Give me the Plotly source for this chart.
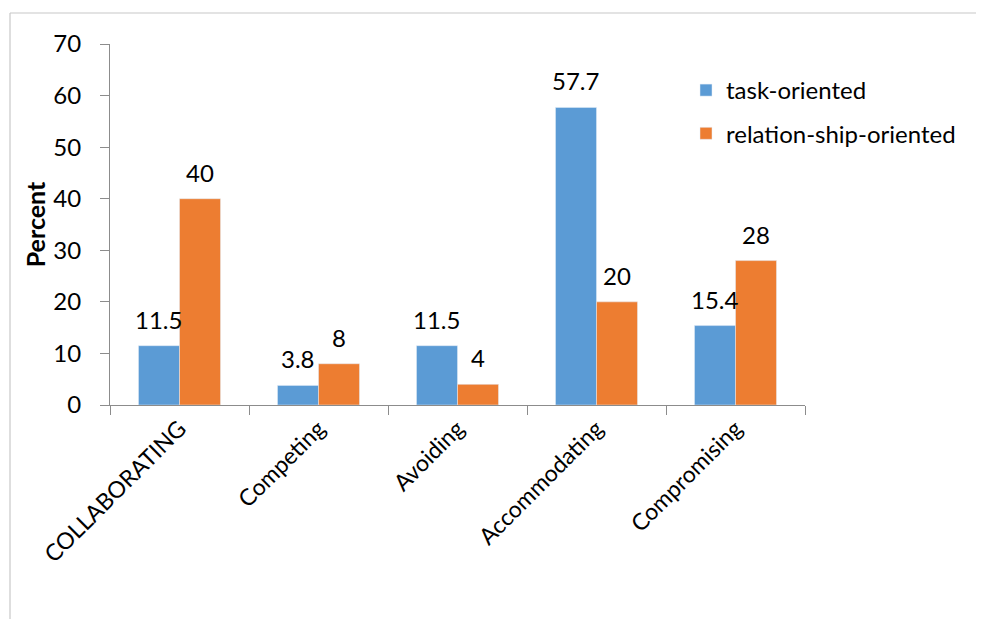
import plotly.graph_objects as go

categories = ["COLLABORATING", "Competing", "Avoiding", "Accommodating", "Compromising"]
task_oriented = [11.5, 3.8, 11.5, 57.7, 15.4]
relationship_oriented = [40, 8, 4, 20, 28]
series_names = ["task-oriented", "relation-ship-oriented"]
y_ticks = [0, 10, 20, 30, 40, 50, 60, 70]

FONT = "Lato, Calibri, 'Open Sans', sans-serif"
BLUE = "#5B9BD5"
ORANGE = "#ED7D31"

OFF = 8  # page body margin
W, H = 984 - OFF, 619 - OFF
L, R, T, B = 110 - OFF, 179, 44 - OFF, 214
pw = W - L - R
ph = H - T - B

fig = go.Figure()
fig.add_trace(go.Bar(x=categories, y=task_oriented, name=series_names[0],
                     marker=dict(color=BLUE), legendgroup="a"))
fig.add_trace(go.Bar(x=categories, y=relationship_oriented, name=series_names[1],
                     marker=dict(color=ORANGE), legendgroup="b"))

bargap = 0.41
bar_px = pw / len(categories) * (1 - bargap) / 2
annotations = []
for vals, sgn in ((task_oriented, -1), (relationship_oriented, 1)):
    for c, v in zip(categories, vals):
        annotations.append(dict(x=c, y=v, xref="x", yref="y", text=f"{v:g}",
                                showarrow=False, xshift=sgn * bar_px / 2, yshift=10,
                                yanchor="bottom", font=dict(size=24, color="#000", family=FONT)))

def px_x(p):
    # p: absolute screenshot pixel
    return (p - OFF - L) / pw

def px_y(p):
    return (H - B - (p - OFF)) / ph

shapes = [
    dict(type="line", xref="paper", yref="paper", x0=px_x(10), x1=px_x(1000), y0=px_y(13), y1=px_y(13),
         line=dict(color="#c8c8c8", width=1.2), layer="below"),
    dict(type="line", xref="paper", yref="paper", x0=px_x(10), x1=px_x(10), y0=px_y(13), y1=px_y(640),
         line=dict(color="#c8c8c8", width=1.2), layer="below"),
]

fig.update_layout(
    width=W, height=H,
    margin=dict(l=L, r=R, t=T, b=B, autoexpand=False),
    paper_bgcolor="white", plot_bgcolor="white",
    barmode="group", bargap=bargap, bargroupgap=0,
    font=dict(family=FONT, size=24, color="#000"),
    showlegend=True,
    legend=dict(x=px_x(686), y=px_y(68), xanchor="left", yanchor="top",
                font=dict(size=24, family=FONT), tracegroupgap=9,
                traceorder="grouped", itemwidth=30, bgcolor="rgba(0,0,0,0)"),
    annotations=annotations,
    shapes=shapes,
    xaxis=dict(showline=True, linecolor="#8c8c8c", linewidth=1.2, ticks="outside",
               tickson="boundaries", ticklen=9, tickcolor="#8c8c8c", tickangle=-45,
               tickfont=dict(size=23, family=FONT), showgrid=False),
    yaxis=dict(range=[0, 70], tickvals=y_ticks, showline=True, linecolor="#8c8c8c", linewidth=1.2,
               ticks="outside", ticklen=9, tickcolor="#8c8c8c", showgrid=False, zeroline=False,
               tickfont=dict(size=24, family=FONT), ticklabelstandoff=14,
               title=dict(text="<b>Percent</b>", font=dict(size=25, family=FONT), standoff=0)),
)

fig.write_html("out.html")
